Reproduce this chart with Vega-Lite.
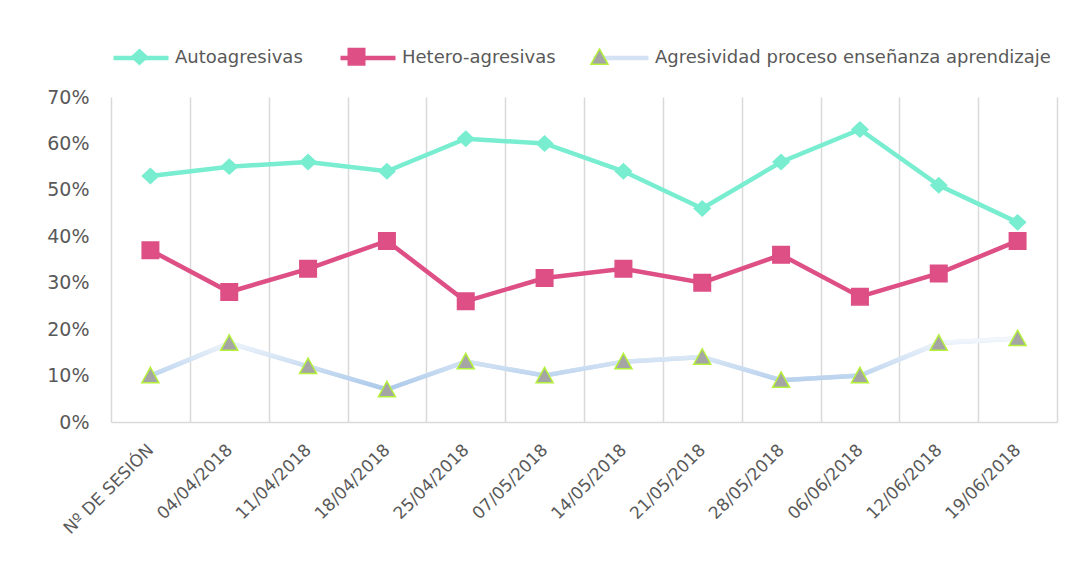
{
  "$schema": "https://vega.github.io/schema/vega-lite/v6.json",
  "width": 946,
  "height": 325,
  "autosize": {"type": "none"},
  "padding": {"left": 111, "top": 97, "right": 20, "bottom": 162},
  "background": "white",
  "config": {
    "view": {"stroke": null},
    "font": "DejaVu Sans",
    "legend": {"labelFont": "DejaVu Sans"}
  },
  "data": {
    "values": [
      {"sesion": "Nº DE SESIÓN", "Autoagresivas": 0.53, "Hetero-agresivas": 0.37, "Agresividad proceso enseñanza aprendizaje": 0.10},
      {"sesion": "04/04/2018", "Autoagresivas": 0.55, "Hetero-agresivas": 0.28, "Agresividad proceso enseñanza aprendizaje": 0.17},
      {"sesion": "11/04/2018", "Autoagresivas": 0.56, "Hetero-agresivas": 0.33, "Agresividad proceso enseñanza aprendizaje": 0.12},
      {"sesion": "18/04/2018", "Autoagresivas": 0.54, "Hetero-agresivas": 0.39, "Agresividad proceso enseñanza aprendizaje": 0.07},
      {"sesion": "25/04/2018", "Autoagresivas": 0.61, "Hetero-agresivas": 0.26, "Agresividad proceso enseñanza aprendizaje": 0.13},
      {"sesion": "07/05/2018", "Autoagresivas": 0.60, "Hetero-agresivas": 0.31, "Agresividad proceso enseñanza aprendizaje": 0.10},
      {"sesion": "14/05/2018", "Autoagresivas": 0.54, "Hetero-agresivas": 0.33, "Agresividad proceso enseñanza aprendizaje": 0.13},
      {"sesion": "21/05/2018", "Autoagresivas": 0.46, "Hetero-agresivas": 0.30, "Agresividad proceso enseñanza aprendizaje": 0.14},
      {"sesion": "28/05/2018", "Autoagresivas": 0.56, "Hetero-agresivas": 0.36, "Agresividad proceso enseñanza aprendizaje": 0.09},
      {"sesion": "06/06/2018", "Autoagresivas": 0.63, "Hetero-agresivas": 0.27, "Agresividad proceso enseñanza aprendizaje": 0.10},
      {"sesion": "12/06/2018", "Autoagresivas": 0.51, "Hetero-agresivas": 0.32, "Agresividad proceso enseñanza aprendizaje": 0.17},
      {"sesion": "19/06/2018", "Autoagresivas": 0.43, "Hetero-agresivas": 0.39, "Agresividad proceso enseñanza aprendizaje": 0.18}
    ]
  },
  "encoding": {
    "x": {
      "field": "sesion",
      "type": "nominal",
      "sort": null,
      "scale": {"paddingInner": 0, "paddingOuter": 0},
      "axis": {
        "title": null,
        "grid": true,
        "gridColor": "#d9d9d9",
        "gridWidth": 1.5,
        "tickBand": "extent",
        "ticks": false,
        "domain": true,
        "domainColor": "#d9d9d9",
        "domainWidth": 1.5,
        "labelAngle": -45,
        "labelAlign": "right",
        "labelBaseline": "middle",
        "labelFont": "DejaVu Sans",
        "labelFontSize": 17,
        "labelColor": "#595959",
        "labelPadding": 25
      }
    }
  },
  "layer": [
    {
      "transform": [{"fold": ["Autoagresivas", "Hetero-agresivas", "Agresividad proceso enseñanza aprendizaje"], "as": ["serie", "valor"]}],
      "mark": {"type": "line", "strokeWidth": 4.5},
      "encoding": {
        "y": {
          "field": "valor",
          "type": "quantitative",
          "scale": {"domain": [0, 0.7], "nice": false},
          "axis": {
            "title": null,
            "values": [0, 0.1, 0.2, 0.3, 0.4, 0.5, 0.6, 0.7],
            "format": ".0%",
            "grid": false,
            "domain": false,
            "ticks": false,
            "labelFont": "DejaVu Sans",
            "labelFontSize": 19,
            "labelColor": "#595959",
            "labelPadding": 22
          }
        },
        "color": {
          "field": "serie",
          "type": "nominal",
          "sort": ["Autoagresivas", "Hetero-agresivas", "Agresividad proceso enseñanza aprendizaje"],
          "scale": {
            "range": ["#78edd0", "#dd4f85", "#d3e3f4"]
          },
          "legend": {
            "title": null,
            "orient": "none",
            "legendX": 0,
            "legendY": -69,
            "direction": "horizontal",
            "symbolType": "stroke",
            "symbolSize": 3025,
            "symbolStrokeWidth": 4.5,
            "labelFont": "DejaVu Sans",
            "labelFontSize": 18,
            "labelColor": "#595959",
            "labelLimit": 0,
            "labelOffset": 4,
            "columnPadding": 28
          }
        }
      }
    },
    {
      "transform": [{"fold": ["Agresividad proceso enseñanza aprendizaje"], "as": ["serie_g", "valor_g"]}],
      "mark": {
        "type": "line",
        "strokeWidth": 4.5,
        "stroke": {
          "gradient": "linear",
          "x1": 0, "y1": 1, "x2": 0, "y2": 0,
          "stops": [
            {"offset": 0, "color": "#abc9ea"},
            {"offset": 1, "color": "#f3f7fc"}
          ]
        }
      },
      "encoding": {
        "y": {"field": "valor_g", "type": "quantitative"}
      }
    },
    {
      "transform": [{"fold": ["Autoagresivas", "Hetero-agresivas", "Agresividad proceso enseñanza aprendizaje"], "as": ["serie_p", "valor_p"]}],
      "mark": {"type": "point", "filled": true, "opacity": 1, "size": 3025, "strokeWidth": 1.5},
      "encoding": {
        "y": {"field": "valor_p", "type": "quantitative"},
        "shape": {
          "field": "serie_p",
          "type": "nominal",
          "scale": {
            "domain": ["Autoagresivas", "Hetero-agresivas", "Agresividad proceso enseñanza aprendizaje"],
            "range": ["M0,-0.27L0.29,0L0,0.27L-0.29,0Z", "M-0.3,-0.3H0.3V0.3H-0.3Z", "M0,-0.3L0.31,0.26H-0.31Z"]
          },
          "legend": {
            "title": null,
            "orient": "none",
            "legendX": 0,
            "legendY": -69,
            "direction": "horizontal",
            "symbolSize": 3025,
            "symbolStrokeWidth": 1.5,
            "labelFont": "DejaVu Sans",
            "labelFontSize": 18,
            "labelOpacity": 0,
            "labelLimit": 0,
            "labelOffset": 4,
            "columnPadding": 28
          }
        },
        "fill": {
          "field": "serie_p",
          "type": "nominal",
          "scale": {
            "domain": ["Autoagresivas", "Hetero-agresivas", "Agresividad proceso enseñanza aprendizaje"],
            "range": ["#78edd0", "#dd4f85", "#a5a5a5"]
          },
          "legend": {
            "title": null,
            "orient": "none",
            "legendX": 0,
            "legendY": -69,
            "direction": "horizontal",
            "symbolSize": 3025,
            "symbolStrokeWidth": 1.5,
            "labelFont": "DejaVu Sans",
            "labelFontSize": 18,
            "labelOpacity": 0,
            "labelLimit": 0,
            "labelOffset": 4,
            "columnPadding": 28
          }
        },
        "stroke": {
          "field": "serie_p",
          "type": "nominal",
          "scale": {
            "domain": ["Autoagresivas", "Hetero-agresivas", "Agresividad proceso enseñanza aprendizaje"],
            "range": ["#78edd0", "#dd4f85", "#b4f03c"]
          },
          "legend": {
            "title": null,
            "orient": "none",
            "legendX": 0,
            "legendY": -69,
            "direction": "horizontal",
            "symbolSize": 3025,
            "symbolStrokeWidth": 1.5,
            "labelFont": "DejaVu Sans",
            "labelFontSize": 18,
            "labelOpacity": 0,
            "labelLimit": 0,
            "labelOffset": 4,
            "columnPadding": 28
          }
        }
      }
    }
  ]
}
